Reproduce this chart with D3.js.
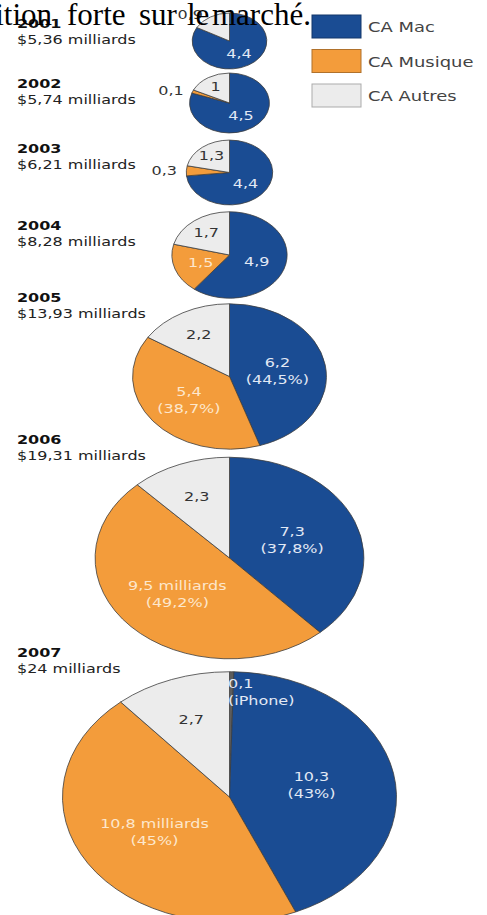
<!DOCTYPE html>
<html>
<head>
<meta charset="utf-8">
<script src="https://cdn.jsdelivr.net/npm/d3@7"></script>
<style>
	body { margin: 0; background: #fff; }
	svg { display: block; font-family: "DejaVu Sans", sans-serif; }
</style>
</head>
<body>
<div id="chart"></div>
<script>
// chiffre d'affaires Apple, en milliards de $
var years = ["2001", "2002", "2003", "2004", "2005", "2006", "2007"];
var totals = [5.36, 5.74, 6.21, 8.28, 13.93, 19.31, 24];
var caIPhone = [0, 0, 0, 0, 0, 0, 0.1];
var caMac = [4.4, 4.5, 4.4, 4.9, 6.2, 7.3, 10.3];
var caMusique = [0, 0.1, 0.3, 1.5, 5.4, 9.5, 10.8];
var caAutres = [0.9, 1, 1.3, 1.7, 2.2, 2.3, 2.7];
var pctMac = ["", "", "", "", "44,5%", "37,8%", "43%"];
var pctMusique = ["", "", "", "", "38,7%", "49,2%", "45%"];
var legendNames = ["CA Mac", "CA Musique", "CA Autres"];

var width = 487, height = 915;
var cx = 229.5;
var squash = 0.75;       // the picture is stretched: pies are ellipses
var textStretch = 1.23;

var colors = { iphone: "#5c5c5c", mac: "#1a4c93", musique: "#f39c3b", autres: "#ececec" };
var labelColors = { iphone: "#e2e9f5", mac: "#e2e9f5", musique: "#fde7cc", autres: "#333" };
var labelRadius = { mac: 0.5, musique: 0.53, autres: 0.66 };

// layout of the rows (pie centre and header baseline)
var pieY = [41, 103, 172.5, 255, 376.5, 558, 797];
var headerY = [28, 88, 153, 230, 302, 444, 657];

var fmt = function(v){ return String(v).replace(".", ","); };

var svg = d3.select("#chart").append("svg")
	.attr("width", width)
	.attr("height", height);

var r = d3.scaleLinear().domain([0, 24]).range([0, 167]);

var pie = d3.pie().sort(null).value(function(d){ return d.value; });

function addText(parent, x, y, str, sx){
	return parent.append("text")
		.attr("transform", "translate(" + x + "," + y + ") scale(" + sx + ",1)")
		.text(str);
}

years.forEach(function(year, i){
	var rx = r(totals[i]);
	var slices = [
		{ key: "iphone", value: caIPhone[i] },
		{ key: "mac", value: caMac[i] },
		{ key: "musique", value: caMusique[i] },
		{ key: "autres", value: caAutres[i] }
	].filter(function(d){ return d.value > 0; });
	var sum = d3.sum(slices, function(d){ return d.value; });
	var arcs = pie(slices);
	var arc = d3.arc().innerRadius(0).outerRadius(rx);

	// header
	addText(svg, 17, headerY[i], year, textStretch)
		.attr("font-size", 13).attr("font-weight", "bold").attr("fill", "#111");
	addText(svg, 17, headerY[i] + 16, "$" + fmt(totals[i]) + " milliards", textStretch)
		.attr("font-size", 13).attr("fill", "#222");

	var g = svg.append("g")
		.attr("transform", "translate(" + cx + "," + pieY[i] + ") scale(1," + squash + ")");
	g.selectAll("path")
		.data(arcs)
		.enter().append("path")
		.attr("d", arc)
		.attr("fill", function(d){ return colors[d.data.key]; })
		.attr("stroke", "#3d3d3d")
		.attr("stroke-width", 0.8)
		.attr("vector-effect", "non-scaling-stroke");

	var lg = svg.append("g")
		.attr("transform", "translate(" + cx + "," + pieY[i] + ")")
		.attr("font-size", 13);

	arcs.forEach(function(d){
		var key = d.data.key;
		var mid = (d.startAngle + d.endAngle) / 2;
		var frac = d.data.value / sum;
		if (key === "iphone") {
			var top = -rx * squash;
			addText(lg, -1.5, top + 16, fmt(d.data.value), textStretch).attr("fill", labelColors.iphone);
			addText(lg, -1.5, top + 33, "(iPhone)", textStretch).attr("fill", labelColors.iphone);
			return;
		}
		// small slices (and the narrow 2001 pie) get their label outside
		if (frac < 0.06 || (key === "autres" && rx < 38)) {
			var ro = rx * 1.08;
			addText(lg, ro * Math.sin(mid) - 6, -ro * Math.cos(mid) * squash + 4.5, fmt(d.data.value), textStretch)
				.attr("text-anchor", "end").attr("fill", "#333");
			return;
		}
		var rl = rx * labelRadius[key];
		var x = rl * Math.sin(mid), y = -rl * Math.cos(mid) * squash;
		var lines = [fmt(d.data.value)];
		if (key === "musique" && d.data.value > 9) lines[0] += " milliards";
		var pct = key === "mac" ? pctMac[i] : key === "musique" ? pctMusique[i] : "";
		if (pct) lines.push("(" + pct + ")");
		lines.forEach(function(line, j){
			addText(lg, x, y + 4.5 + (j - (lines.length - 1) / 2) * 17, line, textStretch)
				.attr("text-anchor", "middle")
				.attr("fill", labelColors[key]);
		});
	});
});

// legend
var legendColors = [colors.mac, colors.musique, colors.autres];
var legend = svg.append("g").attr("font-size", 13.5);
legendNames.forEach(function(name, i){
	var y = 15 + i * 34.5;
	legend.append("rect")
		.attr("x", 312).attr("y", y)
		.attr("width", 49).attr("height", 23)
		.attr("fill", legendColors[i])
		.attr("stroke", d3.color(legendColors[i]).darker(0.9))
		.attr("stroke-width", 1);
	addText(legend, 368, y + 17, name, 1.33).attr("fill", "#444");
});

// texte de la page qui déborde sur l'image
var overlay = svg.append("g")
	.attr("font-family", "'Liberation Serif', serif")
	.attr("font-size", 31)
	.attr("fill", "#000");
overlay.append("text").attr("x", 52).attr("y", 25).attr("text-anchor", "end").text("position");
[["forte", 67], ["sur", 139], ["le", 187], ["marché.", 212]].forEach(function(w){
	overlay.append("text").attr("x", w[1]).attr("y", 25).text(w[0]);
});
</script>
</body>
</html>
